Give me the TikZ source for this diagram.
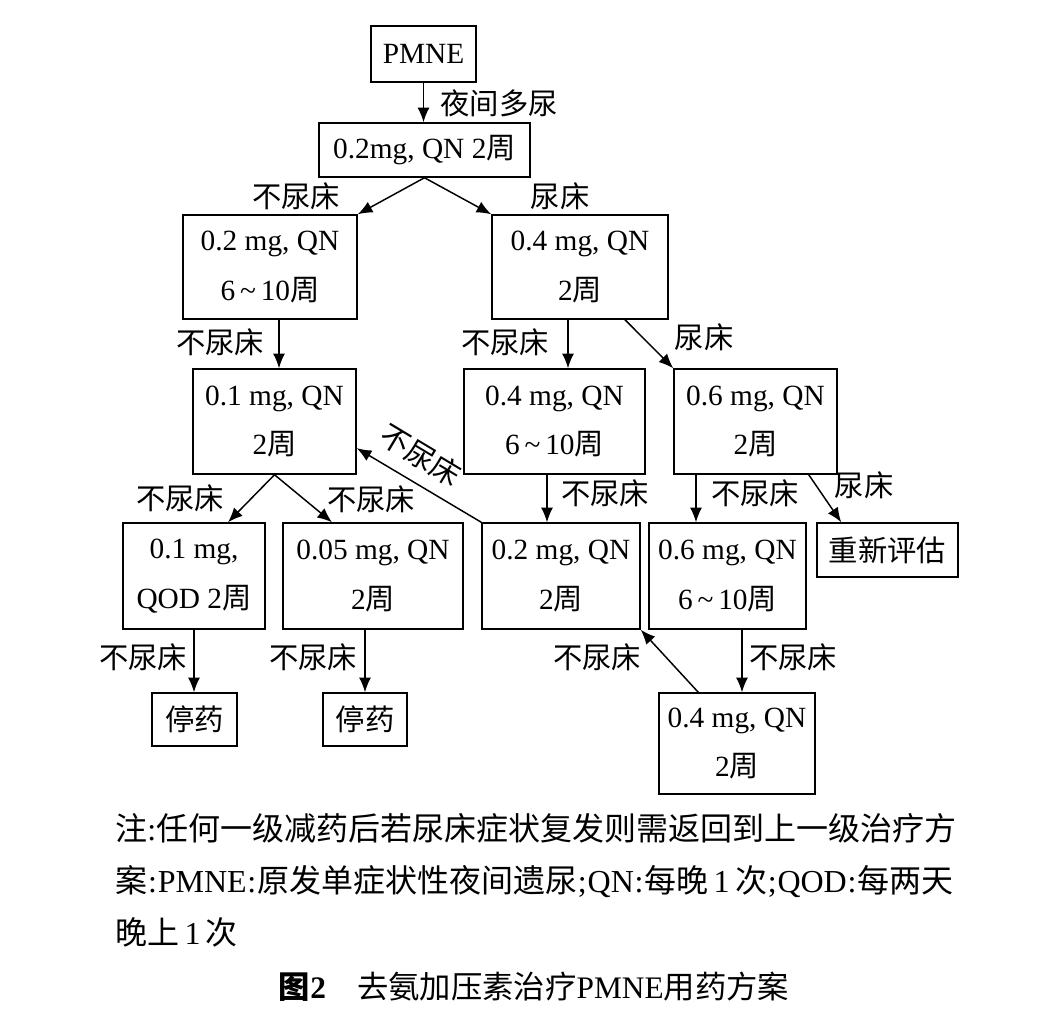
\documentclass[tikz,border=0pt]{standalone}
\usepackage{fontspec}
\setmainfont{Liberation Serif}
\newfontfamily\cjk{Noto Sans CJK SC}
\usepackage{tikz}
\usetikzlibrary{arrows.meta,calc}
\newcommand{\zh}[1]{{\cjk #1}}
\newcommand{\wk}{6\,\textasciitilde\,10\zh{周}}

\tikzset{
  dose/.style 2 args={draw, line width=1.1pt, rectangle, align=center, inner sep=0pt,
    minimum width=#1, minimum height=#2, font=\fontsize{22}{37}\selectfont},
  conn/.style={line width=1.1pt, -{Latex[length=11pt,width=9pt]}},
  lbl/.style={inner sep=0pt, font=\fontsize{22}{26}\selectfont},
}

\begin{document}
\begin{tikzpicture}[x=0.75pt,y=0.75pt,yscale=-1,xscale=1]
            %set diagram left start at 0, and has height of 1025
            \useasboundingbox (0,0) rectangle (1051,1025);
            
            %Shape: Rectangle [PMNE]
            \node[dose={78.75pt}{42pt}] (pmne) at (423.5,54) {PMNE};
            %Shape: Rectangle [first dose]
            \node[dose={158.25pt}{40.5pt}] (q2) at (424.5,150) {0.2mg, QN 2\zh{周}};
            %Shape: Rectangle [row 2]
            \node[dose={130.5pt}{78pt}] (a) at (270,267) {0.2 mg, QN\\\wk};
            \node[dose={132pt}{78pt}] (b) at (580,267) {0.4 mg, QN\\2\zh{周}};
            %Shape: Rectangle [row 3]
            \node[dose={122.25pt}{78.75pt}] (c) at (274.5,421.5) {0.1 mg, QN\\2\zh{周}};
            \node[dose={135.75pt}{78.75pt}] (d) at (554.5,421.5) {0.4 mg, QN\\\wk};
            \node[dose={122.25pt}{78.75pt}] (e) at (755.5,421.5) {0.6 mg, QN\\2\zh{周}};
            %Shape: Rectangle [row 4]
            \node[dose={106.5pt}{79.5pt}] (j) at (194,576) {0.1 mg,\\QOD 2\zh{周}};
            \node[dose={135pt}{79.5pt}] (k) at (373,576) {0.05 mg, QN\\2\zh{周}};
            \node[dose={118.5pt}{79.5pt}] (f) at (561,576) {0.2 mg, QN\\2\zh{周}};
            \node[dose={117.75pt}{79.5pt}] (g) at (727.5,576) {0.6 mg, QN\\\wk};
            \node[dose={105.75pt}{40.5pt}] (h) at (887.5,550) {\zh{重新评估}};
            %Shape: Rectangle [row 5]
            \node[dose={63.75pt}{39.75pt}] (s1) at (194.5,719.5) {\zh{停药}};
            \node[dose={63pt}{39.75pt}] (s2) at (365,719.5) {\zh{停药}};
            \node[dose={117pt}{75.75pt}] (i) at (737,743.5) {0.4 mg, QN\\2\zh{周}};
            
            %Straight Lines
            \coordinate (a1) at ($(a.south)+(9,0)$);
            \coordinate (b1) at ($(b.south)+(-12,0)$);
            \coordinate (b2) at ($(b.south)+(45,0)$);
            \coordinate (j1) at ($(j.north)+(34,0)$);
            \coordinate (k1) at ($(k.north)+(-41,0)$);
            \coordinate (c2) at ($(c.east)!0.5!(c.south east)$);
            \coordinate (d1) at ($(d.south)+(-7.5,0)$);
            \coordinate (e1) at ($(e.south)+(-59.5,0)$);
            \coordinate (e2) at ($(e.south east)+(-29,0)$);
            \coordinate (h1) at ($(h.north west)+(25,0)$);
            \coordinate (g1) at ($(g.south)+(14.5,0)$);
            \coordinate (i1) at ($(i.north west)+(40,0)$);
            \draw[conn] (pmne.south) -- (pmne.south |- q2.north);
            \draw[conn] (q2.south) -- (a.north east);
            \draw[conn] (q2.south) -- (b.north west);
            \draw[conn] (a1) -- (a1 |- c.north);
            \draw[conn] (b1) -- (b1 |- d.north);
            \draw[conn] (b2) -- (e.north west);
            \draw[conn] (c.south) -- (j1);
            \draw[conn] (c.south) -- (k1);
            \draw[conn] (d1) -- (d1 |- f.north);
            \draw[conn] (e1) -- (e1 |- g.north);
            \draw[conn] (e2) -- (h1);
            \draw[conn] (f.north west) -- (c2);
            \draw[conn] (j.south) -- (j.south |- s1.north);
            \draw[conn] (s2.north |- k.south) -- (s2.north);
            \draw[conn] (g1) -- (g1 |- i.north);
            \draw[conn] (i1) -- (f.south east);
            
            % Text Node
            \node[lbl] (lnight) at (499,103) {\zh{夜间多尿}};
            \node[lbl] (lq2a) at (296,196) {\zh{不尿床}};
            \node[lbl] (lq2b) at (560,196) {\zh{尿床}};
            \node[lbl] (lac) at (220,342) {\zh{不尿床}};
            \node[lbl] (lbd) at (505,342) {\zh{不尿床}};
            \node[lbl] (lbe) at (704,337) {\zh{尿床}};
            \node[lbl, rotate=-31] (lfc) at (421,455) {\zh{不尿床}};
            \node[lbl] (lcj) at (180,498) {\zh{不尿床}};
            \node[lbl] (lck) at (371,499) {\zh{不尿床}};
            \node[lbl] (ldf) at (605,493) {\zh{不尿床}};
            \node[lbl] (leg) at (755,493) {\zh{不尿床}};
            \node[lbl] (leh) at (864,485) {\zh{尿床}};
            \node[lbl] (ljs) at (143,657) {\zh{不尿床}};
            \node[lbl] (lks) at (313,657) {\zh{不尿床}};
            \node[lbl] (lif) at (597,657) {\zh{不尿床}};
            \node[lbl] (lgi) at (793,657) {\zh{不尿床}};
            
            % Text Node
            \node[anchor=west, inner sep=0pt, align=left, font=\fontsize{24}{39}\selectfont] (note) at (115,880)
              {\zh{注}:\zh{任何一级减药后若尿床症状复发则需返回到上一级治疗方}\\
               \zh{案}\kern.6pt:\kern.6pt PMNE\kern.6pt:\kern.6pt\zh{原发单症状性夜间遗尿}\kern.6pt;\kern.6pt QN\kern.6pt:\kern.6pt\zh{每晚}\,1\,\zh{次}\kern.6pt;\kern.6pt QOD\kern.6pt:\kern.6pt\zh{每两天}\\
               \zh{晚上}\,1\,\zh{次}};
            % Text Node
            \node[inner sep=0pt, font=\fontsize{23.5}{28}\selectfont] (caption) at (534,987)
              {\textbf{\zh{图}2}\quad\zh{去氨加压素治疗}PMNE\zh{用药方案}};
            
\end{tikzpicture}
\end{document}
